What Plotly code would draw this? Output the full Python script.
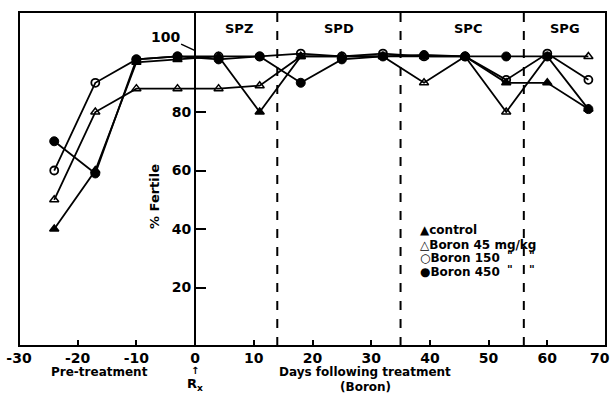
import plotly.graph_objects as go

days = [-24, -17, -10, -3, 4, 11, 18, 25, 32, 39, 46, 53, 60, 67]
control = [40, 60, 97, 98, 99, 80, 99, 99, 99, 99, 99, 90, 90, 81]
boron45 = [50, 80, 88, 88, 88, 89, 99, 99, 99, 90, 99, 80, 99, 99]
boron150 = [60, 90, 98, 99, 99, 99, 100, 99, 100, 99, 99, 91, 100, 91]
boron450 = [70, 59, 98, 99, 98, 99, 90, 98, 99, 99.5, 99, 99, 99, 81]

series_names = ["control", "Boron 45 mg/kg", "Boron 150", "Boron 450"]
phase_bounds = [14, 35, 56]
phase_labels = ["SPZ", "SPD", "SPC", "SPG"]
phase_label_x = [7.5, 24.5, 46.5, 63]
x_ticks = [-30, -20, -10, 0, 10, 20, 30, 40, 50, 60, 70]
y_ticks = [20, 40, 60, 80]

FONT = "DejaVu Sans"
fig = go.Figure()

styles = [
    dict(symbol="triangle-up", color="black", size=8, line=dict(color="black", width=1.5)),
    dict(symbol="triangle-up-open", color="black", size=8, line=dict(color="black", width=1.5)),
    dict(symbol="circle-open", color="black", size=8, line=dict(color="black", width=1.8)),
    dict(symbol="circle", color="black", size=9, line=dict(color="black", width=1)),
]
for name, vals, st in zip(series_names, [control, boron45, boron150, boron450], styles):
    fig.add_trace(go.Scatter(x=days, y=vals, mode="lines+markers", name=name,
                             line=dict(color="black", width=1.8), marker=st,
                             showlegend=False, cliponaxis=False))

shapes = [dict(type="rect", xref="paper", yref="paper", x0=0, x1=1, y0=0, y1=1,
               line=dict(color="black", width=2))]
for b in phase_bounds:
    shapes.append(dict(type="line", xref="x", yref="paper", x0=b, x1=b, y0=0, y1=1,
                       line=dict(color="black", width=2, dash="dash")))

tfont = dict(family=FONT, size=14, color="black", weight="bold")
ann = []
for lab, lx in zip(phase_labels, phase_label_x):
    ann.append(dict(x=lx, y=108.5, xref="x", yref="y", text=lab, showarrow=False,
                    font=dict(family=FONT, size=13, color="black", weight="bold")))

# 100 label with leader line
ann.append(dict(x=0, y=101, xref="x", yref="y", text="100", showarrow=True,
                arrowhead=0, arrowwidth=1.5, arrowcolor="black", ax=-30, ay=-14,
                standoff=0, font=tfont))
# last x tick label, kept inside the page
ann.append(dict(x=x_ticks[-1], y=0, xref="x", yref="y", text=str(x_ticks[-1]), showarrow=False,
                xanchor="right", xshift=6, yanchor="top", yshift=-2, font=tfont))
# y title
ann.append(dict(x=-6.8, y=51, xref="x", yref="y", text="% Fertile", textangle=-90,
                showarrow=False, font=dict(family=FONT, size=13, color="black", weight="bold")))
# bottom labels
bfont = dict(family=FONT, size=12, color="black", weight="bold")
ann.append(dict(x=-16.3, y=-0.078, xref="x", yref="paper", yanchor="middle", text="Pre-treatment",
                showarrow=False, font=bfont))
ann.append(dict(x=0, y=-0.072, xref="x", yref="paper", yanchor="middle", text="↑",
                showarrow=False, font=dict(family=FONT, size=10, color="black", weight="bold")))
ann.append(dict(x=0, y=-0.115, xref="x", yref="paper", yanchor="middle", text="R<sub>x</sub>",
                showarrow=False, font=dict(family=FONT, size=13, color="black", weight="bold")))
ann.append(dict(x=29, y=-0.078, xref="x", yref="paper", yanchor="middle",
                text="Days following treatment", showarrow=False, font=bfont))
ann.append(dict(x=29, y=-0.122, xref="x", yref="paper", yanchor="middle", text="(Boron)",
                showarrow=False, font=bfont))

# legend text
leg_text = ["▲control", "△Boron 45 mg/kg", "○Boron 150", "●Boron 450"]
leg_y = [39.5, 34.7, 30.2, 25.4]
lfont = dict(family=FONT, size=12, color="black", weight="bold")
for t, yy in zip(leg_text, leg_y):
    ann.append(dict(x=38.0, y=yy, xref="x", yref="y", text=t, showarrow=False, xanchor="left",
                    font=lfont))
for yy in leg_y[2:]:
    for dx in [53.6, 57.4]:
        ann.append(dict(x=dx, y=yy + 0.8, xref="x", yref="y", text='"', showarrow=False,
                        font=dict(family=FONT, size=11, color="black", weight="bold")))

fig.update_layout(
    width=612, height=393,
    margin=dict(l=19, r=6, t=12, b=47, autoexpand=False),
    plot_bgcolor="white", paper_bgcolor="white",
    shapes=shapes, annotations=ann,
    xaxis=dict(range=[-30, 70], tickvals=x_ticks,
               ticktext=[str(v) for v in x_ticks[:-1]] + [""],
               ticks="inside", ticklen=6, tickwidth=2, tickcolor="black", automargin=False,
               showline=False, showgrid=False, zeroline=False, ticklabeloverflow="allow",
               ticklabelstandoff=2, tickfont=tfont),
    yaxis=dict(range=[0, 114.2], tickvals=y_ticks, ticks="inside", ticklen=10, tickwidth=2,
               tickcolor="black", anchor="free", position=0.3, showline=True, automargin=False,
               linecolor="black", linewidth=2, showgrid=False, zeroline=False,
               tickfont=tfont),
)

fig.write_html("out.html")
